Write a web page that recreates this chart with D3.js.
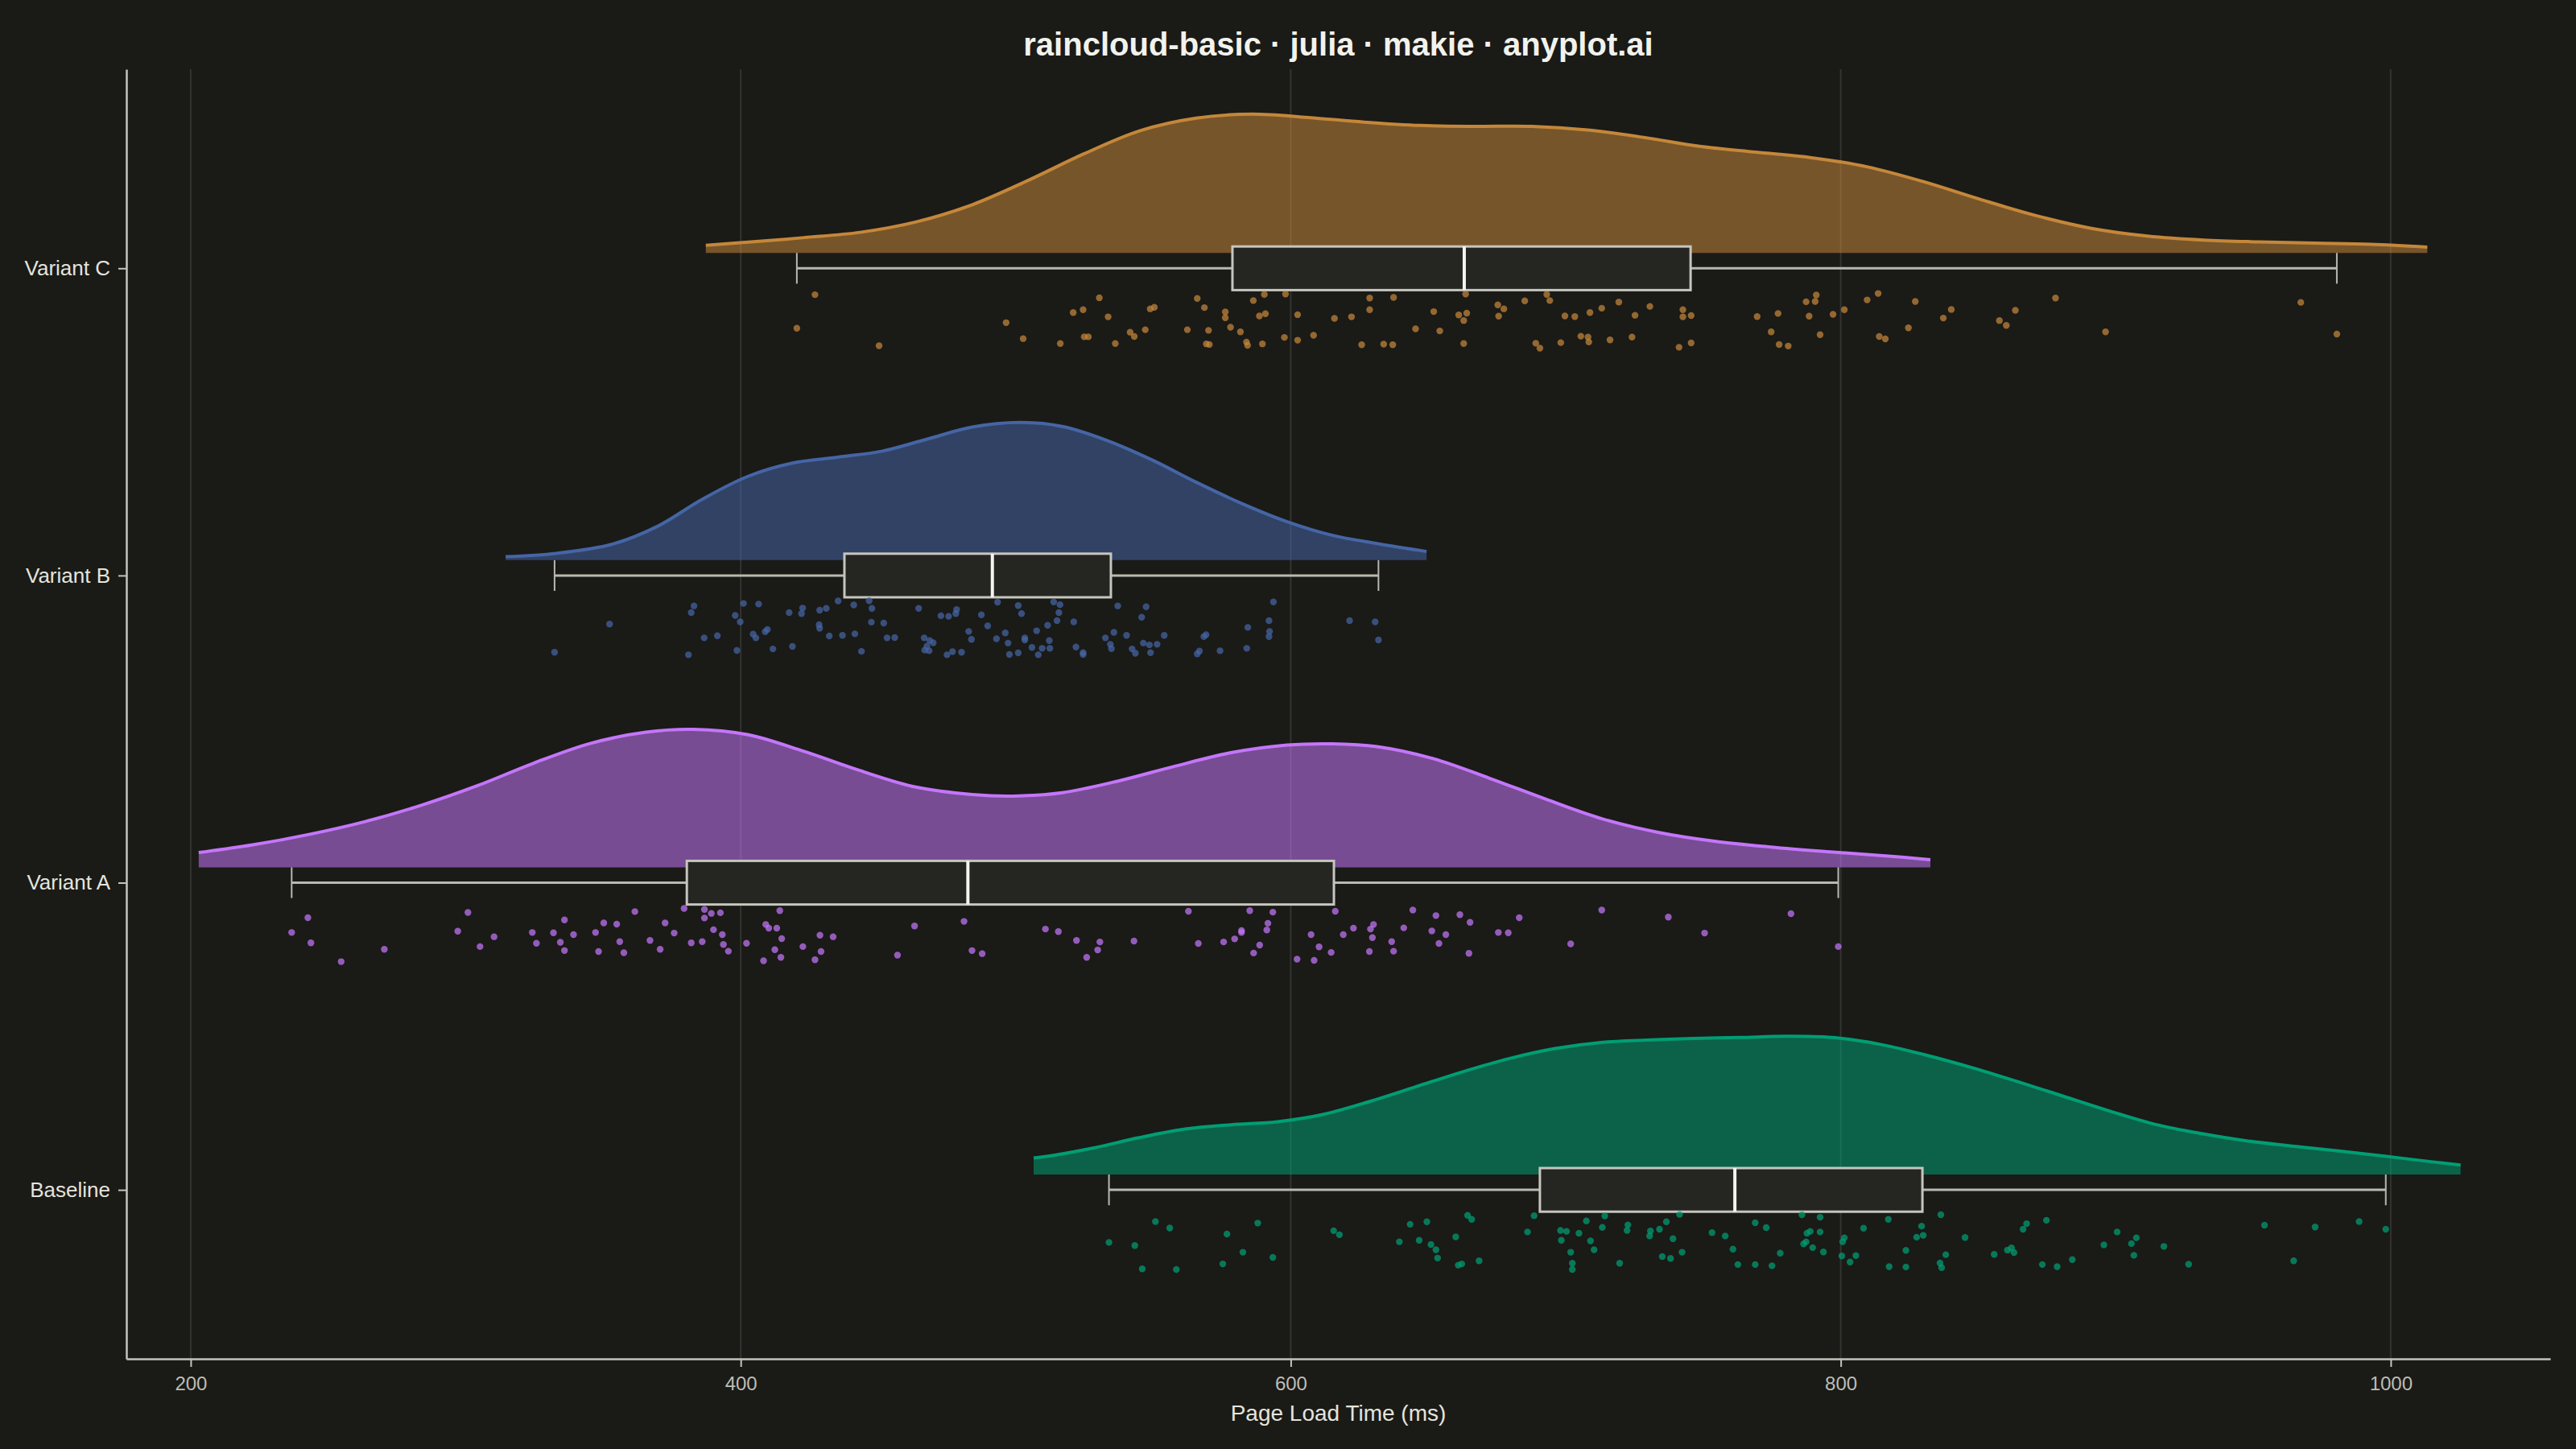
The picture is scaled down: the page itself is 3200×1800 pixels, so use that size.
<!DOCTYPE html>
<html>
<head>
<meta charset="utf-8">
<script src="https://cdn.jsdelivr.net/npm/d3@7/dist/d3.min.js"></script>
<style>
body { margin: 0; background: #1a1a17; }
</style>
</head>
<body>
<div id="chart"></div>
<script>
// categories, bottom to top
let categories = ["Baseline", "Variant A", "Variant B", "Variant C"];
let colors = ["#009E73", "#C476FA", "#4565A5", "#C4873A"];

let xTicks = [200, 400, 600, 800, 1000];

// box stats (ms)
let whiskerLo = [533.9, 236.7, 332.3, 420.4];
let q1 = [690.6, 380.4, 437.7, 578.8];
let median = [761.5, 482.6, 491.5, 663.1];
let q3 = [829.7, 615.7, 534.6, 745.4];
let whiskerHi = [998.2, 799.1, 631.9, 980.4];

// density outlines: [ms, height in category units]
let densityBaseline = [[506.5,0.054],[511.2,0.059],[528,0.086],[544.8,0.120],[561.6,0.148],[578.4,0.162],[595.2,0.172],[612,0.196],[628.8,0.238],[645.6,0.286],[662.4,0.334],[679.3,0.377],[696.1,0.410],[712.9,0.430],[729.7,0.438],[746.5,0.443],[763.3,0.446],[780.1,0.450],[796.9,0.446],[813.7,0.425],[830.5,0.390],[847.3,0.349],[864.1,0.303],[880.9,0.255],[897.7,0.207],[914.5,0.163],[931.3,0.133],[948.1,0.109],[964.9,0.092],[981.7,0.076],[998.5,0.059],[1015.3,0.041],[1025.4,0.031]];
let densityA = [[202.9,0.048],[222.5,0.073],[242.9,0.107],[263.4,0.149],[283.8,0.202],[304.3,0.266],[324.7,0.339],[345.2,0.403],[365.6,0.440],[382.8,0.449],[402.4,0.432],[422.8,0.378],[443.3,0.315],[463.7,0.261],[484.2,0.237],[498.9,0.232],[516.9,0.243],[537.3,0.281],[557.8,0.329],[578.2,0.373],[598.7,0.398],[615,0.402],[631.4,0.393],[651.8,0.354],[672.3,0.290],[692.7,0.222],[713.2,0.158],[733.6,0.114],[754.1,0.085],[774.5,0.066],[795,0.051],[815.4,0.038],[832.6,0.025]];
let densityB = [[314.5,0.011],[332.9,0.022],[353.3,0.052],[369.7,0.110],[386,0.198],[402.4,0.272],[418.8,0.316],[435.1,0.335],[451.5,0.355],[467.8,0.394],[484.2,0.433],[501.4,0.448],[516.9,0.435],[533.3,0.389],[549.6,0.326],[566,0.252],[582.3,0.184],[598.7,0.125],[615,0.081],[631.4,0.054],[649.4,0.028]];
let densityC = [[387.3,0.025],[402.8,0.035],[423.1,0.050],[443.4,0.067],[463.8,0.101],[484.2,0.157],[504.5,0.236],[524.9,0.323],[545.2,0.398],[565.6,0.439],[585.9,0.452],[606.3,0.441],[626.6,0.426],[647,0.415],[667.3,0.412],[687.7,0.412],[708,0.400],[728.4,0.376],[748.7,0.347],[769.1,0.328],[789.4,0.310],[809.8,0.280],[830.1,0.232],[850.5,0.175],[870.8,0.122],[891.2,0.080],[911.5,0.055],[931.9,0.042],[952.2,0.036],[972.6,0.032],[992.9,0.028],[1013.3,0.019]];

// raw points: [ms, vertical jitter in category units]
let pointsBaseline = [[550.8,-0.103],[556.0,-0.124],[533.9,-0.171],[543.3,-0.181],[546.0,-0.257],[558.4,-0.259],[576.8,-0.144],[588.0,-0.108],[582.6,-0.203],[593.5,-0.220],[575.3,-0.241],[615.6,-0.133],[617.7,-0.146],[643.4,-0.112],[649.5,-0.104],[639.5,-0.169],[646.7,-0.164],[651.0,-0.178],[652.8,-0.195],[653.4,-0.222],[660.0,-0.153],[660.9,-0.245],[662.2,-0.241],[664.3,-0.083],[665.8,-0.096],[668.5,-0.231],[688.5,-0.084],[686.1,-0.137],[698.1,-0.132],[700.3,-0.135],[704.8,-0.141],[698.4,-0.164],[709.0,-0.166],[701.8,-0.203],[710.3,-0.195],[702.4,-0.239],[702.4,-0.259],[707.5,-0.101],[714.2,-0.085],[713.3,-0.122],[722.6,-0.114],[722.3,-0.132],[719.6,-0.239],[730.8,-0.134],[730.5,-0.150],[734.1,-0.128],[736.6,-0.104],[741.4,-0.080],[739.0,-0.159],[742.3,-0.203],[735.1,-0.217],[738.1,-0.223],[753.2,-0.139],[758.0,-0.150],[760.8,-0.193],[762.6,-0.243],[768.9,-0.243],[775.0,-0.247],[768.9,-0.107],[772.9,-0.123],[778.0,-0.206],[785.9,-0.081],[792.5,-0.089],[787.7,-0.141],[788.9,-0.135],[792.5,-0.137],[787.4,-0.169],[786.5,-0.176],[789.8,-0.188],[793.7,-0.202],[801.3,-0.156],[800.7,-0.169],[800.4,-0.215],[805.5,-0.214],[803.4,-0.235],[808.3,-0.125],[817.3,-0.096],[829.4,-0.118],[827.6,-0.154],[830.0,-0.148],[836.4,-0.081],[823.7,-0.197],[838.2,-0.211],[817.6,-0.250],[823.7,-0.251],[836.1,-0.238],[836.7,-0.253],[845.2,-0.155],[855.8,-0.210],[860.6,-0.196],[862.1,-0.189],[863.0,-0.204],[866.3,-0.128],[867.6,-0.110],[874.8,-0.099],[873.3,-0.243],[878.7,-0.250],[884.2,-0.227],[900.5,-0.137],[895.7,-0.179],[905.7,-0.175],[907.5,-0.156],[906.6,-0.213],[917.5,-0.184],[926.5,-0.242],[954.1,-0.115],[964.7,-0.231],[972.5,-0.121],[988.5,-0.103],[998.2,-0.128]];
let pointsA = [[242.6,-0.114],[236.7,-0.162],[243.7,-0.196],[254.7,-0.257],[270.4,-0.217],[300.8,-0.097],[297.1,-0.158],[310.3,-0.176],[305.2,-0.208],[324.2,-0.162],[325.7,-0.197],[331.9,-0.163],[335.9,-0.121],[334.4,-0.194],[335.9,-0.221],[339.2,-0.169],[347.2,-0.162],[350.2,-0.131],[354.9,-0.135],[356.0,-0.192],[348.3,-0.224],[357.5,-0.228],[361.5,-0.094],[372.5,-0.131],[367.0,-0.188],[370.7,-0.217],[375.8,-0.164],[379.4,-0.084],[386.8,-0.087],[389.3,-0.100],[392.6,-0.098],[386.8,-0.115],[390.1,-0.153],[393.3,-0.169],[382.0,-0.196],[386.0,-0.192],[393.7,-0.201],[395.5,-0.223],[402.1,-0.197],[414.2,-0.091],[409.1,-0.136],[410.2,-0.148],[413.1,-0.148],[414.9,-0.182],[428.8,-0.171],[433.6,-0.176],[422.6,-0.208],[412.4,-0.218],[429.2,-0.224],[414.6,-0.243],[408.3,-0.254],[427.0,-0.251],[457.0,-0.236],[463.2,-0.141],[481.2,-0.126],[484.1,-0.221],[487.8,-0.231],[510.8,-0.151],[515.5,-0.159],[522.1,-0.188],[530.6,-0.193],[529.8,-0.219],[525.8,-0.243],[543.0,-0.190],[562.8,-0.093],[566.4,-0.198],[575.6,-0.193],[579.6,-0.183],[582.1,-0.162],[582.1,-0.156],[585.1,-0.091],[593.5,-0.096],[591.7,-0.132],[591.3,-0.154],[588.7,-0.203],[586.5,-0.229],[602.3,-0.249],[608.5,-0.253],[607.4,-0.169],[610.3,-0.209],[614.7,-0.227],[616.2,-0.093],[619.1,-0.169],[622.8,-0.148],[629.0,-0.151],[630.1,-0.136],[629.7,-0.179],[628.6,-0.224],[636.7,-0.192],[637.4,-0.223],[641.1,-0.147],[644.4,-0.089],[652.8,-0.107],[651.3,-0.157],[656.4,-0.169],[653.9,-0.198],[661.5,-0.104],[665.2,-0.129],[664.8,-0.230],[675.5,-0.162],[679.1,-0.163],[683.1,-0.114],[701.8,-0.199],[713.1,-0.089],[737.3,-0.112],[750.5,-0.164],[781.9,-0.101],[799.1,-0.208]];
let pointsB = [[332.3,-0.250],[352.3,-0.158],[381.0,-0.258],[382.0,-0.121],[383.0,-0.099],[386.7,-0.203],[391.5,-0.196],[398.6,-0.244],[398.0,-0.130],[399.8,-0.151],[401.0,-0.091],[406.5,-0.093],[404.5,-0.191],[405.5,-0.203],[408.9,-0.183],[409.7,-0.176],[411.7,-0.239],[417.6,-0.121],[418.8,-0.231],[422.1,-0.124],[422.5,-0.106],[428.7,-0.113],[431.1,-0.107],[428.5,-0.160],[428.7,-0.172],[432.2,-0.197],[435.4,-0.083],[437.0,-0.195],[441.1,-0.096],[441.5,-0.190],[446.7,-0.082],[447.7,-0.107],[447.5,-0.152],[452.0,-0.155],[443.9,-0.247],[453.2,-0.203],[456.0,-0.202],[464.7,-0.107],[466.7,-0.203],[468.7,-0.212],[470.0,-0.219],[467.7,-0.230],[466.9,-0.243],[468.5,-0.245],[472.8,-0.131],[475.6,-0.133],[478.2,-0.124],[478.5,-0.111],[477.0,-0.248],[480.3,-0.250],[475.0,-0.258],[482.9,-0.182],[483.9,-0.208],[487.5,-0.128],[489.8,-0.164],[493.4,-0.087],[493.0,-0.206],[496.2,-0.187],[497.2,-0.220],[497.7,-0.257],[500.9,-0.252],[500.9,-0.098],[502.1,-0.124],[503.3,-0.203],[503.3,-0.210],[505.9,-0.234],[507.6,-0.180],[508.2,-0.258],[509.6,-0.237],[511.6,-0.162],[512.4,-0.237],[512.2,-0.212],[513.8,-0.086],[516.1,-0.095],[515.7,-0.121],[515.0,-0.147],[521.1,-0.151],[521.9,-0.233],[524.5,-0.251],[524.5,-0.257],[532.6,-0.203],[534.4,-0.224],[534.8,-0.238],[535.7,-0.185],[537.1,-0.099],[540.3,-0.195],[542.3,-0.239],[543.5,-0.253],[545.8,-0.136],[546.4,-0.220],[547.4,-0.102],[548.6,-0.226],[549.0,-0.251],[551.4,-0.224],[554.0,-0.195],[566.0,-0.255],[566.8,-0.246],[568.4,-0.199],[569.2,-0.193],[574.3,-0.245],[584.0,-0.237],[584.4,-0.169],[592.1,-0.147],[592.3,-0.182],[592.1,-0.199],[593.7,-0.086],[621.4,-0.147],[630.7,-0.151],[631.9,-0.210]];
let pointsC = [[427.0,-0.086],[420.4,-0.195],[450.3,-0.252],[496.5,-0.177],[502.7,-0.229],[516.2,-0.245],[520.9,-0.144],[524.5,-0.135],[530.4,-0.096],[524.9,-0.223],[526.4,-0.223],[533.6,-0.158],[536.2,-0.245],[541.6,-0.208],[543.1,-0.222],[547.1,-0.200],[548.9,-0.132],[550.4,-0.127],[562.4,-0.200],[566.0,-0.098],[568.6,-0.128],[570.1,-0.202],[569.3,-0.246],[570.4,-0.248],[576.2,-0.142],[576.2,-0.161],[578.1,-0.192],[581.7,-0.207],[583.9,-0.240],[584.3,-0.251],[586.4,-0.105],[588.6,-0.155],[590.8,-0.148],[589.7,-0.246],[590.4,-0.085],[597.7,-0.225],[598.1,-0.084],[602.5,-0.151],[602.5,-0.234],[608.3,-0.218],[615.9,-0.163],[622.1,-0.158],[625.8,-0.249],[628.7,-0.097],[628.7,-0.135],[633.8,-0.247],[637.4,-0.095],[637.1,-0.249],[645.4,-0.197],[652.0,-0.141],[654.2,-0.204],[661.1,-0.152],[664.0,-0.146],[662.9,-0.170],[662.9,-0.245],[663.6,-0.084],[675.3,-0.119],[677.5,-0.132],[675.6,-0.156],[685.1,-0.106],[689.1,-0.244],[690.6,-0.260],[693.1,-0.085],[694.2,-0.105],[698.2,-0.242],[699.7,-0.155],[703.3,-0.157],[705.5,-0.221],[708.1,-0.224],[708.4,-0.240],[708.8,-0.144],[713.1,-0.130],[716.1,-0.233],[719.3,-0.110],[724.1,-0.224],[725.2,-0.153],[730.6,-0.124],[741.2,-0.257],[742.6,-0.135],[742.6,-0.158],[745.6,-0.154],[745.6,-0.243],[769.6,-0.157],[774.7,-0.207],[777.2,-0.147],[777.6,-0.248],[780.9,-0.253],[787.4,-0.109],[790.7,-0.108],[791.1,-0.087],[788.5,-0.156],[792.5,-0.216],[797.2,-0.150],[801.3,-0.135],[809.6,-0.103],[813.6,-0.082],[814.0,-0.222],[816.2,-0.230],[824.6,-0.194],[827.1,-0.108],[837.3,-0.162],[840.2,-0.134],[857.7,-0.170],[860.2,-0.186],[863.5,-0.137],[878.1,-0.097],[896.3,-0.207],[967.3,-0.111],[980.4,-0.214]];

let densities = [densityBaseline, densityA, densityB, densityC];
let points = [pointsBaseline, pointsA, pointsB, pointsC];

let width = 3200,
    height = 1800;
let margin = {top: 86, right: 32, bottom: 112, left: 157};

let svg = d3.select("#chart")
    .append("svg")
    .attr("width", width)
    .attr("height", height)
    .style("background", "#1a1a17")
    .style("font-family", "'Liberation Sans', Arial, sans-serif");

let x = d3.scaleLinear()
    .domain([176.6, 1058])
    .range([margin.left, width - margin.right]);

let y = d3.scaleLinear()
    .domain([0.45, 4.648])
    .range([height - margin.bottom, margin.top]);

// vertical grid
svg.append("g")
    .selectAll("line")
    .data(xTicks)
    .enter()
    .append("line")
    .attr("x1", function(d) { return x(d); })
    .attr("x2", function(d) { return x(d); })
    .attr("y1", margin.top)
    .attr("y2", height - margin.bottom)
    .attr("stroke", "#33332f")
    .attr("stroke-width", 2);

let densityOffset = 0.05,
    boxHalf = 0.071,
    capHalf = 0.05;

categories.forEach(function(cat, i) {
    let pos = i + 1;
    let color = colors[i];

    let area = d3.area()
        .curve(d3.curveCatmullRom)
        .x(function(d) { return x(d[0]); })
        .y0(y(pos + densityOffset))
        .y1(function(d) { return y(pos + densityOffset + d[1]); });

    let line = d3.line()
        .curve(d3.curveCatmullRom)
        .x(function(d) { return x(d[0]); })
        .y(function(d) { return y(pos + densityOffset + d[1]); });

    svg.append("path")
        .datum(densities[i])
        .attr("d", area)
        .attr("fill", color)
        .attr("fill-opacity", 0.55);

    svg.append("path")
        .datum(densities[i])
        .attr("d", line)
        .attr("fill", "none")
        .attr("stroke", color)
        .attr("stroke-width", 4);

    // whiskers
    let g = svg.append("g");
    g.append("line")
        .attr("x1", x(whiskerLo[i])).attr("x2", x(q1[i]))
        .attr("y1", y(pos)).attr("y2", y(pos))
        .attr("stroke", "#b9b9b1").attr("stroke-width", 3);
    g.append("line")
        .attr("x1", x(q3[i])).attr("x2", x(whiskerHi[i]))
        .attr("y1", y(pos)).attr("y2", y(pos))
        .attr("stroke", "#b9b9b1").attr("stroke-width", 3);
    [whiskerLo[i], whiskerHi[i]].forEach(function(v) {
        g.append("line")
            .attr("x1", x(v)).attr("x2", x(v))
            .attr("y1", y(pos + capHalf)).attr("y2", y(pos - capHalf))
            .attr("stroke", "#b9b9b1").attr("stroke-width", 2);
    });

    // box
    g.append("rect")
        .attr("x", x(q1[i]))
        .attr("y", y(pos + boxHalf))
        .attr("width", x(q3[i]) - x(q1[i]))
        .attr("height", y(pos - boxHalf) - y(pos + boxHalf))
        .attr("fill", "#252522")
        .attr("stroke", "#c6c6be")
        .attr("stroke-width", 3);
    g.append("line")
        .attr("x1", x(median[i])).attr("x2", x(median[i]))
        .attr("y1", y(pos + boxHalf)).attr("y2", y(pos - boxHalf))
        .attr("stroke", "#f4f4ef").attr("stroke-width", 4);

    // rain
    svg.append("g")
        .selectAll("circle")
        .data(points[i])
        .enter()
        .append("circle")
        .attr("cx", function(d) { return x(d[0]); })
        .attr("cy", function(d) { return y(pos + d[1]); })
        .attr("r", 4.2)
        .attr("fill", color)
        .attr("fill-opacity", 0.72);
});

// axes
let xAxis = svg.append("g")
    .attr("transform", `translate(0,${height - margin.bottom})`)
    .call(d3.axisBottom(x).tickValues(xTicks).tickSize(10).tickSizeOuter(0).tickPadding(12)
        .tickFormat(d3.format("d")));
xAxis.selectAll("text").style("font-size", "24px").attr("fill", "#bdbdb5");

let yAxis = svg.append("g")
    .attr("transform", `translate(${margin.left},0)`)
    .call(d3.axisLeft(y).tickValues([1, 2, 3, 4]).tickSize(10).tickSizeOuter(0).tickPadding(10)
        .tickFormat(function(d) { return categories[d - 1]; }));
yAxis.selectAll("text").style("font-size", "26px").attr("fill", "#e4e4dc");

svg.selectAll(".domain").attr("stroke", "#c4c4bc").attr("stroke-width", 2.5);
svg.selectAll(".tick line").attr("stroke", "#c4c4bc").attr("stroke-width", 2);

svg.append("text")
    .attr("x", (margin.left + width - margin.right) / 2)
    .attr("y", 1765)
    .style("text-anchor", "middle")
    .style("font-size", "28px")
    .attr("fill", "#e4e4dc")
    .text("Page Load Time (ms)");

svg.append("text")
    .attr("x", (margin.left + width - margin.right) / 2)
    .attr("y", 69)
    .style("text-anchor", "middle")
    .style("font-size", "40px")
    .style("font-weight", "bold")
    .attr("fill", "#f2f2ec")
    .text("raincloud-basic · julia · makie · anyplot.ai");
</script>
</body>
</html>
